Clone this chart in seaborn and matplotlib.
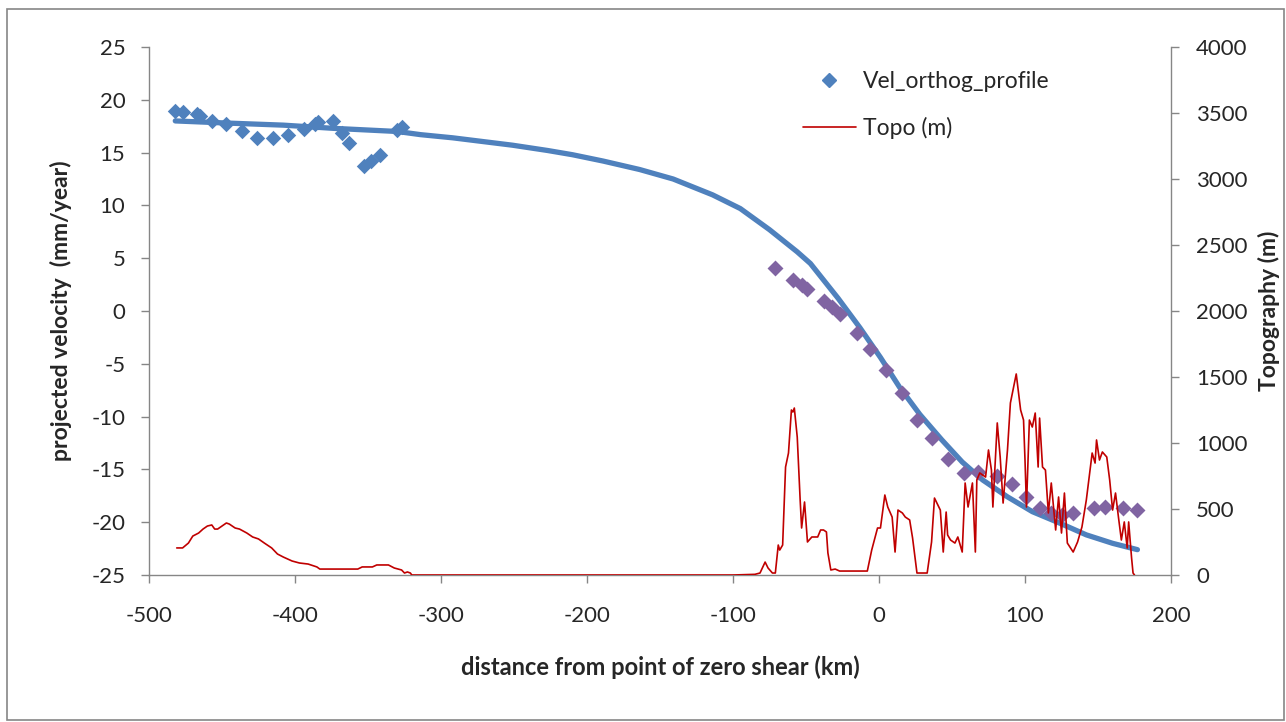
import numpy as np
import pandas as pd
import seaborn as sns
import matplotlib.pyplot as plt
from matplotlib.lines import Line2D
from matplotlib.patches import Rectangle

# measured velocities (blue diamonds)
vel_x = [-482, -477, -467, -465, -457, -447, -436, -426, -415, -405, -394, -386, -384, -374, -368, -363, -353, -348, -342, -330, -327]
vel_y = [18.9, 18.8, 18.7, 18.5, 18.0, 17.7, 17.0, 16.4, 16.4, 16.7, 17.2, 17.7, 17.9, 18.0, 16.9, 15.9, 13.7, 14.2, 14.8, 17.1, 17.4]

# second velocity profile (purple diamonds)
vel2_x = [-71, -59, -53, -49, -38, -32, -27, -15, -6, 5, 16, 26, 36, 47, 58, 68, 81, 91, 101, 110, 118, 125, 133, 147, 155, 167, 177]
vel2_y = [4.1, 2.9, 2.5, 2.1, 0.9, 0.4, -0.3, -2.1, -3.6, -5.6, -7.8, -10.3, -12.0, -14.0, -15.3, -15.2, -15.6, -16.4, -17.6, -18.7, -19.1, -19.3, -19.1, -18.7, -18.6, -18.7, -18.8]

# model curve (thick blue line)
model_x = [-482, -447, -408, -374, -330, -314, -292, -251, -227, -210, -189, -164, -141, -114, -95, -75, -56, -47, -28, -13, 1, 14, 28, 43, 57, 71, 88, 105, 124, 142, 160, 177]
model_y = [18.0, 17.8, 17.6, 17.3, 17.0, 16.7, 16.4, 15.7, 15.2, 14.8, 14.2, 13.4, 12.5, 11.0, 9.7, 7.7, 5.6, 4.5, 1.2, -1.6, -4.4, -7.2, -9.8, -12.2, -14.3, -16.0, -17.6, -19.0, -20.1, -21.2, -22.0, -22.6]

# topography profile (m)
topo_x = [-481, -477, -473, -470, -466, -463, -460, -457, -455, -453, -450, -447, -445, -441, -438,
          -433, -429, -425, -421, -416, -412, -408, -402, -397, -391, -385, -383, -357, -354, -347,
          -344, -336, -332, -327, -325, -323, -321, -320, -250, -150, -100, -85, -81.5, -78, -76, -73,
          -71, -69, -68, -66, -64, -62, -60, -59, -58, -56, -54, -53, -51, -49, -46, -42, -40, -38,
          -36, -35, -33, -30, -27, -8, -5, -1, 1, 4, 6, 9, 11, 13, 16, 18, 21, 23, 26, 33, 36, 38,
          42, 44, 46, 47, 49, 52, 54, 57, 59, 61, 64, 66, 67, 69, 73, 75, 77, 78, 81, 83, 85, 88,
          90, 94, 97, 99, 100, 101, 103, 105, 107, 109, 110, 112, 114, 116, 118, 121, 123, 125, 127,
          129, 133, 136, 139, 142, 146, 148, 149, 151, 153, 156, 158, 160, 162, 164, 166, 168, 170,
          171, 173, 174, 175]
topo_y = [205, 205, 242, 295, 318, 348, 371, 379, 348, 348, 371, 394, 386, 356, 348,
          318, 288, 273, 242, 205, 159, 136, 106, 91, 83, 61, 45, 45, 61, 61,
          76, 76, 53, 38, 15, 23, 15, 0, 0, 0, 0, 5, 15, 98, 53, 15,
          15, 227, 189, 227, 818, 924, 1250, 1235, 1265, 1045, 568, 356, 553, 250, 288, 288, 341, 341,
          326, 167, 38, 45, 30, 30, 189, 356, 356, 606, 515, 439, 174, 492, 470, 439, 417, 280, 15, 15, 250, 583,
          492, 174, 477, 303, 265, 242, 288, 174, 697, 515, 697, 174, 720, 773, 742, 947, 795, 515, 1152, 894, 545, 947,
          1303, 1523, 1250, 1174, 871, 515, 1174, 1121, 1227, 818, 1189, 818, 795, 470, 697, 341, 591, 318, 621,
          242, 174, 250, 364, 568, 924, 848, 1023, 871, 932, 894, 720, 492, 621, 439, 265, 402, 205,
          402, 129, 15, 0]

x_ticks = [-500, -400, -300, -200, -100, 0, 100, 200]
v_ticks = [-25, -20, -15, -10, -5, 0, 5, 10, 15, 20, 25]
h_ticks = [0, 500, 1000, 1500, 2000, 2500, 3000, 3500, 4000]

blue = '#4F81BD'
purple = '#8064A2'
red = '#C00000'
grey = '#868686'

sns.set_theme(style='white')
plt.rcParams['font.family'] = ['Lato', 'DejaVu Sans']
plt.rcParams['axes.unicode_minus'] = False

fig = plt.figure(figsize=(12.86, 7.22), dpi=100)
ax = fig.add_axes([149 / 1286, 1 - 575 / 722, 1022 / 1286, 528 / 722])
ax2 = ax.twinx()

sns.lineplot(x=model_x, y=model_y, ax=ax, color=blue, linewidth=3.8, estimator=None, sort=False)
sns.scatterplot(x=vel_x, y=vel_y, ax=ax, marker='D', s=62, color=blue, linewidth=0, zorder=3)
sns.scatterplot(x=vel2_x, y=vel2_y, ax=ax, marker='D', s=66, color=purple, linewidth=0, zorder=3)
sns.lineplot(x=topo_x, y=topo_y, ax=ax2, color=red, linewidth=1.2, estimator=None, sort=False)

ax.set_xlim(-500, 200)
ax.set_ylim(-25, 25)
ax2.set_ylim(0, 4000)
ax.set_xticks(x_ticks)
ax.set_yticks(v_ticks)
ax2.set_yticks(h_ticks)

for a in (ax, ax2):
    for side in ('top', 'right', 'left', 'bottom'):
        a.spines[side].set_visible(False)
ax.spines['left'].set_visible(True)
ax.spines['bottom'].set_visible(True)
ax2.spines['right'].set_visible(True)
for sp in (ax.spines['left'], ax.spines['bottom'], ax2.spines['right']):
    sp.set_color(grey)
    sp.set_linewidth(1.0)

ax.tick_params(axis='y', direction='out', length=6, width=1, color=grey, labelsize=16, pad=11, left=True)
ax.tick_params(axis='x', direction='out', length=6, width=1, color=grey, labelsize=16, pad=16, bottom=True)
ax2.tick_params(axis='y', direction='out', length=6, width=1, color=grey, labelsize=16, pad=12, right=True)

ax.set_xlabel('distance from point of zero shear (km)', fontsize=17, fontweight='bold')
ax.set_ylabel('projected velocity  (mm/year)', fontsize=16.5, fontweight='bold')
ax2.set_ylabel('Topography (m)', fontsize=16.5, fontweight='bold')
ax.xaxis.set_label_coords(0.5, -0.152)
ax.yaxis.set_label_coords(-0.075, 0.5)
ax2.yaxis.set_label_coords(1.085, 0.5)

handles = [Line2D([], [], marker='D', linestyle='none', color=blue, markersize=7.5),
           Line2D([], [], color=red, linewidth=1.2)]
fig.legend(handles, ['Vel_orthog_profile', 'Topo (m)'], loc='upper left',
           bbox_to_anchor=(803 / 1286, 1 - 71 / 722), frameon=False, fontsize=16.5,
           handlelength=2.3, handletextpad=0.3, labelspacing=1.1, borderpad=0, borderaxespad=0)

fig.patches.append(Rectangle((7 / 1286, 2 / 722), 1277 / 1286, 711 / 722, transform=fig.transFigure,
                             fill=False, edgecolor=grey, linewidth=1.2))

fig.savefig('out.png', dpi=100)
